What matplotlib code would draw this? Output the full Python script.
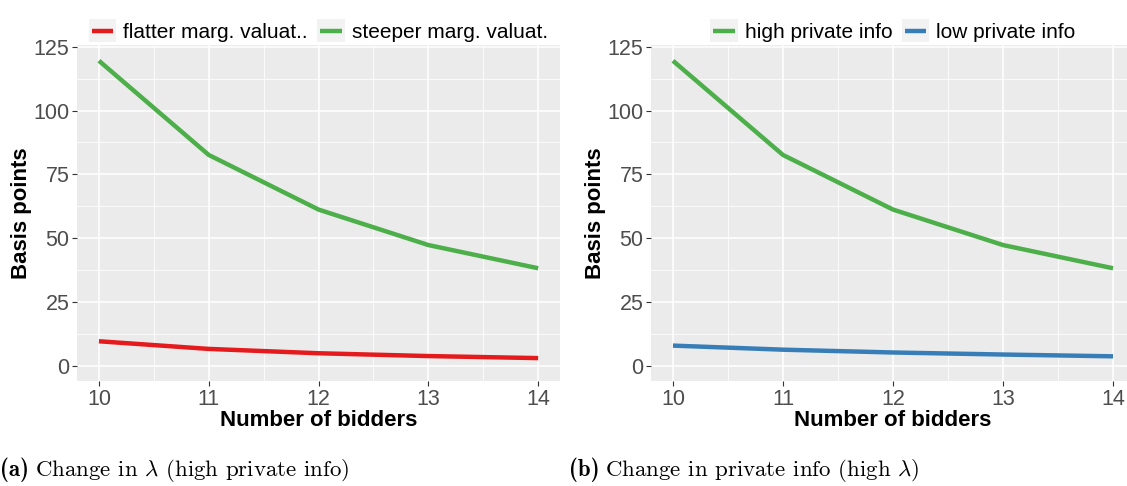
import matplotlib
matplotlib.use("Agg")
import matplotlib.pyplot as plt
from matplotlib.lines import Line2D
from matplotlib.patches import Rectangle
from matplotlib.legend_handler import HandlerBase
from matplotlib.ticker import MultipleLocator

plt.rcParams['font.family'] = ['Liberation Sans', 'DejaVu Sans']
plt.rcParams['mathtext.fontset'] = 'cm'

# ── dados ──────────────────────────────────────────────────────────────
bidders = [10, 11, 12, 13, 14]
steeper = [119.5, 82.6, 61.2, 47.3, 38.2]
flatter = [9.6, 6.6, 4.9, 3.8, 3.0]
high_info = [119.5, 82.6, 61.2, 47.3, 38.2]
low_info = [7.9, 6.3, 5.2, 4.4, 3.7]

RED = '#E41A1C'
GREEN = '#4DAF4A'
BLUE = '#377EB8'


class ChaveGG(HandlerBase):
    """Chave de legenda estilo ggplot: quadrado cinza com linha."""
    def create_artists(self, legend, orig_handle, xdescent, ydescent,
                       width, height, fontsize, trans):
        x0, y0 = -xdescent, -ydescent
        bg = Rectangle((x0, y0), width, height, facecolor='#F2F2F2',
                       edgecolor='none', transform=trans)
        ym = y0 + height / 2
        ln = Line2D([x0 + width * 0.1, x0 + width * 0.9], [ym, ym],
                    color=orig_handle.get_color(), linewidth=3.2,
                    solid_capstyle='butt', transform=trans)
        return [bg, ln]


def estilo_ggplot(ax):
    ax.set_facecolor('#EBEBEB')
    for s in ax.spines.values():
        s.set_visible(False)
    ax.set_xlim(9.8, 14.2)
    ax.set_ylim(-5.98, 125.6)
    ax.xaxis.set_major_locator(MultipleLocator(1))
    ax.xaxis.set_minor_locator(MultipleLocator(0.5))
    ax.yaxis.set_major_locator(MultipleLocator(25))
    ax.yaxis.set_minor_locator(MultipleLocator(12.5))
    ax.grid(which='major', color='white', linewidth=1.1)
    ax.grid(which='minor', color='white', linewidth=0.55)
    ax.set_axisbelow(True)
    ax.tick_params(which='major', length=3.5, width=0.8, color='#333333',
                   labelsize=15.5, labelcolor='#4D4D4D', pad=2)
    ax.tick_params(which='minor', length=0)
    ax.set_xlabel('Number of bidders', fontsize=16, fontweight='bold', labelpad=0)
    ax.set_ylabel('Basis points', fontsize=16, fontweight='bold', labelpad=1)


def legenda(ax, pares):
    handles = [Line2D([], [], color=c, linewidth=3.2) for _, c in pares]
    labels = [n for n, _ in pares]
    ax.legend(handles, labels, handler_map={Line2D: ChaveGG()},
              loc='lower center', bbox_to_anchor=(0.5, 1.0), ncol=2,
              frameon=False, fontsize=15, handlelength=1.3, handleheight=1.3,
              handletextpad=0.35, columnspacing=0.45, borderaxespad=0.05,
              borderpad=0.1)


fig = plt.figure(figsize=(11.27, 4.86), dpi=100)

ax1 = fig.add_axes([0.0683, 0.216, 0.4287, 0.691])
ax1.plot(bidders, flatter, color=RED, linewidth=3.2, solid_capstyle='butt')
ax1.plot(bidders, steeper, color=GREEN, linewidth=3.2, solid_capstyle='butt')
estilo_ggplot(ax1)
legenda(ax1, [('flatter marg. valuat..', RED), ('steeper marg. valuat.', GREEN)])

ax2 = fig.add_axes([0.5776, 0.216, 0.4295, 0.691])
ax2.plot(bidders, high_info, color=GREEN, linewidth=3.2, solid_capstyle='butt')
ax2.plot(bidders, low_info, color=BLUE, linewidth=3.2, solid_capstyle='butt')
estilo_ggplot(ax2)
legenda(ax2, [('high private info', GREEN), ('low private info', BLUE)])

# ── legendas das figuras ───────────────────────────────────────────────
fig.text(0.0, 0.02, '(a)', fontsize=16.5, fontfamily='cmb10', va='baseline')
fig.text(0.031, 0.02, r'Change in $\lambda$ (high private info)', fontsize=16.5,
         fontfamily='cmr10', va='baseline')
fig.text(0.505, 0.02, '(b)', fontsize=16.5, fontfamily='cmb10', va='baseline')
fig.text(0.5365, 0.02, r'Change in private info (high $\lambda$)', fontsize=16.5,
         fontfamily='cmr10', va='baseline')

fig.savefig('out.png', dpi=100)
